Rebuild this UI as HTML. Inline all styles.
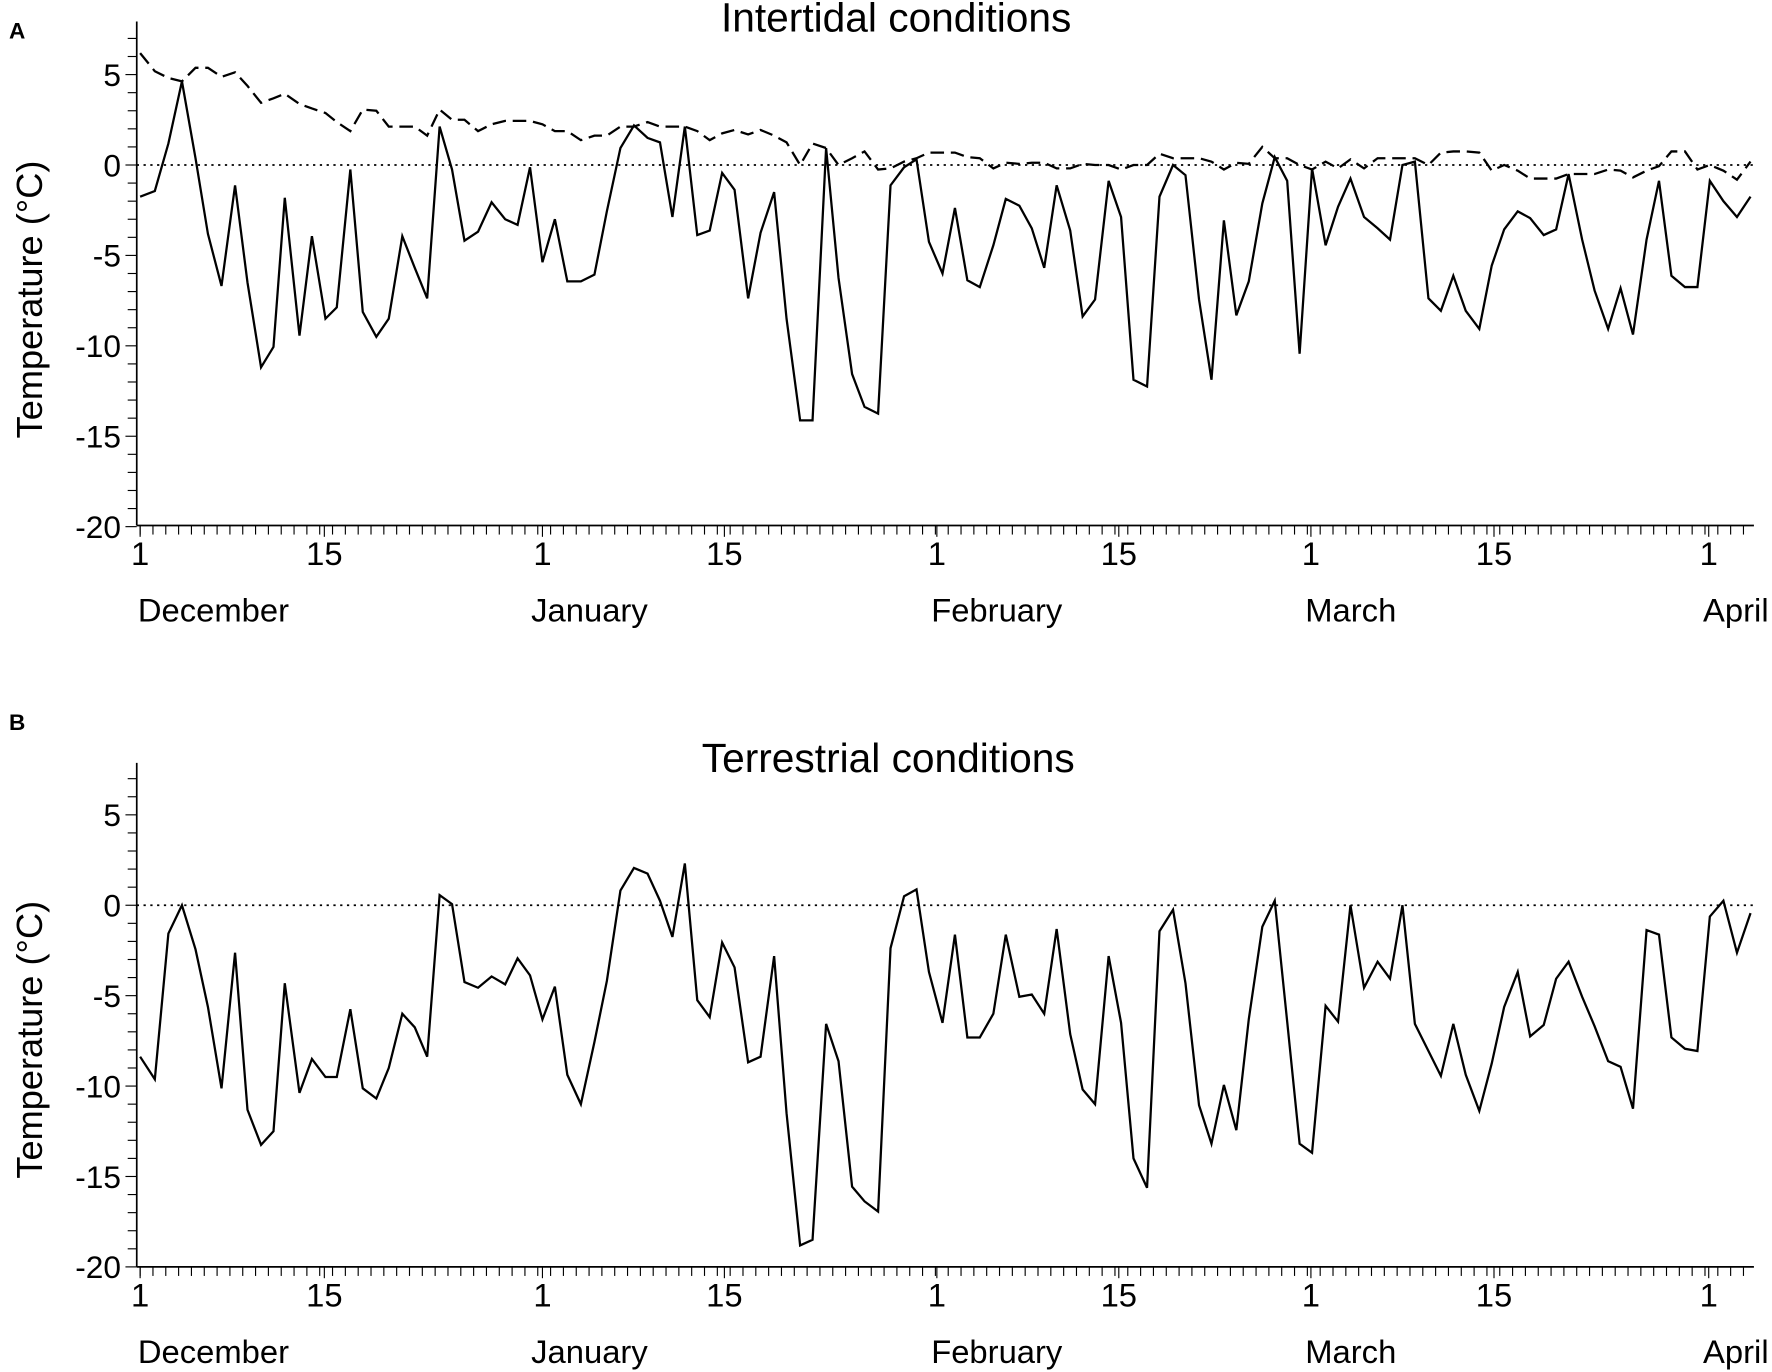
<!DOCTYPE html>
<html><head><meta charset="utf-8"><style>
html,body{margin:0;padding:0;background:#fff}
svg{display:block}
text{font-family:"Liberation Sans",Arial,sans-serif;fill:#000}
</style></head><body>
<svg id="s" width="1772" height="1372" viewBox="0 0 1568 1214" preserveAspectRatio="none" xmlns="http://www.w3.org/2000/svg">
<rect width="1568" height="1214" fill="#fff"/>
<text x="8" y="34" font-size="20" font-weight="bold">A</text>
<text x="8" y="646" font-size="20" font-weight="bold">B</text>
<text x="793" y="28" font-size="36" text-anchor="middle">Intertidal conditions</text>
<text x="786" y="683" font-size="36" text-anchor="middle">Terrestrial conditions</text>
<g id="g"></g>
</svg>
<script>
var g=document.getElementById('g'),NS='http://www.w3.org/2000/svg';
function el(t,a,txt){var e=document.createElementNS(NS,t);for(var k in a)e.setAttribute(k,a[k]);if(txt!==undefined)e.textContent=txt;g.appendChild(e);return e;}
function pts(s){return s.trim().split(/\)\s*,?\s*\(/).map(function(p){return p.replace(/[()]/g,'');}).join(' ');}
function panel(y0,bot){
  var ax=121;
  el('line',{x1:ax,y1:bot-446,x2:ax,y2:bot,stroke:'#000','stroke-width':1.5});
  el('line',{x1:ax,y1:bot,x2:1552,y2:bot,stroke:'#000','stroke-width':1.5});
  for(var v=-20;v<=7;v++){var y=y0-v*16;var maj=(v%5==0);
    el('line',{x1:ax-(maj?10:8),y1:y,x2:ax,y2:y,stroke:'#000','stroke-width':1});
    if(maj&&v<=5)el('text',{x:ax-14,y:y+10,'font-size':28,'text-anchor':'end'},String(v));}
  var xs=[124,287,480,641,829,990,1160,1322,1512];var lb=['1','15','1','15','1','15','1','15','1'];
  for(var i=0;i<=125;i++){var x=124+i*11.35;el('line',{x1:x,y1:bot,x2:x,y2:bot+8,stroke:'#000','stroke-width':1});}
  for(var i=0;i<xs.length;i++){el('line',{x1:xs[i],y1:bot,x2:xs[i],y2:bot+10,stroke:'#000','stroke-width':1});
    el('text',{x:xs[i],y:bot+35,'font-size':29,'text-anchor':'middle'},lb[i]);}
  var m=[['December',122],['January',470],['February',824],['March',1155],['April',1507]];
  m.forEach(function(a){el('text',{x:a[1],y:bot+85,'font-size':29},a[0]);});
  el('text',{x:0,y:0,'font-size':32,'text-anchor':'middle',transform:'translate(37,'+(y0+119)+') rotate(-90)'},'Temperature (°C)');
  el('line',{x1:ax,y1:y0,x2:1552,y2:y0,stroke:'#000','stroke-width':1.5,'stroke-dasharray':'2,4'});
}
panel(146,465);panel(801,1121);
var A="(124,174),(137,169),(149,127),(161,72),(173,140),(184,207),(196,253),(208,164),(219,250),(231,325),(242,307),(252,175),(265,297),(276,209),(288,282),(298,272),(310,150),(321,276),(333,298),(344,282),(356,209),(367,237),(378,264),(389,112),(400,150),(411,213),(423,205),(435,179),(447,194),(458,199),(469,148),(480,232),(491,194),(502,249),(514,249),(526,243),(537,187),(549,131),(561,111),(573,122),(584,126),(595,192),(606,112),(617,208),(628,204),(639,153),(650,168),(662,264),(673,206),(685,170),(696,282),(708,372),(719,372),(731,131),(742,246),(754,331),(765,360),(777,366),(788,164),(800,148),(811,141),(822,214),(834,242),(845,184),(856,248),(867,254),(879,217),(890,176),(902,182),(913,202),(924,237),(935,164),(947,204),(958,280),(969,265),(981,160),(992,192),(1003,336),(1015,342),(1026,174),(1038,146),(1049,155),(1061,265),(1072,336),(1083,195),(1094,279),(1105,249),(1117,180),(1128,139),(1139,160),(1150,313),(1161,149),(1173,217),(1184,183),(1195,158),(1207,192),(1219,202),(1230,212),(1241,146),(1252,143),(1264,264),(1275,275),(1286,244),(1297,275),(1309,291),(1320,235),(1331,203),(1343,187),(1354,193),(1366,208),(1377,203),(1388,154),(1400,212),(1411,257),(1423,291),(1434,255),(1445,296),(1457,212),(1468,160),(1479,244),(1491,254),(1502,254),(1513,160),(1525,178),(1537,192),(1549,174)";
var D="(124,47),(137,63),(149,69),(161,72),(173,60),(184,60),(196,68),(208,64),(219,76),(231,91),(242,87),(252,83),(265,92),(276,96),(288,100),(298,108),(310,116),(321,97),(333,98),(344,112),(356,112),(367,112),(378,120),(389,97),(400,106),(411,106),(423,116),(435,110),(447,107),(458,107),(469,107),(480,110),(491,116),(502,116),(514,124),(526,120),(537,120),(549,112),(561,112),(573,108),(584,112),(595,112),(606,112),(617,116),(628,124),(639,118),(650,115),(662,119),(673,115),(685,120),(696,126),(708,146),(719,127),(731,131),(742,146),(754,140),(765,134),(777,150),(788,149),(800,143),(811,140),(822,135),(834,135),(845,135),(856,139),(867,140),(879,149),(890,144),(902,145),(913,144),(924,144),(935,149),(947,149),(958,145),(969,146),(981,146),(992,150),(1003,146),(1015,146),(1026,136),(1038,140),(1049,140),(1061,140),(1072,143),(1083,150),(1094,144),(1105,145),(1117,130),(1128,140),(1139,140),(1150,146),(1161,150),(1173,143),(1184,149),(1195,141),(1207,149),(1219,140),(1230,140),(1241,140),(1252,140),(1264,146),(1275,135),(1286,134),(1297,134),(1309,135),(1320,151),(1331,146),(1343,151),(1354,158),(1366,158),(1377,158),(1388,154),(1400,154),(1411,154),(1423,150),(1434,151),(1445,157),(1457,151),(1468,147),(1479,134),(1491,134),(1502,150),(1513,146),(1525,151),(1537,159),(1549,143)";
var B="(124,935),(137,955),(149,826),(161,801),(173,840),(184,891),(196,963),(208,843),(219,982),(231,1013),(242,1001),(252,870),(265,967),(276,937),(288,953),(298,953),(310,893),(321,963),(333,972),(344,945),(356,897),(367,909),(378,935),(389,792),(400,800),(411,869),(423,874),(435,864),(447,871),(458,848),(469,863),(480,902),(491,873),(502,951),(514,977),(526,922),(537,868),(549,788),(561,768),(573,773),(584,797),(595,829),(606,764),(617,885),(628,900),(639,834),(650,856),(662,940),(673,935),(685,846),(696,985),(708,1102),(719,1097),(731,906),(742,939),(754,1050),(765,1063),(777,1072),(788,839),(800,793),(811,787),(822,860),(834,905),(845,827),(856,918),(867,918),(879,897),(890,827),(902,882),(913,880),(924,897),(935,822),(947,915),(958,964),(969,977),(981,846),(992,905),(1003,1025),(1015,1051),(1026,824),(1038,805),(1049,870),(1061,978),(1072,1012),(1083,960),(1094,1000),(1105,902),(1117,820),(1128,797),(1139,904),(1150,1012),(1161,1020),(1173,890),(1184,904),(1195,801),(1207,874),(1219,851),(1230,866),(1241,801),(1252,906),(1264,930),(1275,952),(1286,906),(1297,951),(1309,983),(1320,941),(1331,891),(1343,860),(1354,917),(1366,907),(1377,866),(1388,851),(1400,882),(1411,908),(1423,939),(1434,944),(1445,981),(1457,823),(1468,827),(1479,918),(1491,928),(1502,930),(1513,811),(1525,797),(1537,843),(1549,808)";
el('polyline',{points:pts(D),fill:'none',stroke:'#000','stroke-width':2,'stroke-dasharray':'12,6'});
el('polyline',{points:pts(A),fill:'none',stroke:'#000','stroke-width':2});
el('polyline',{points:pts(B),fill:'none',stroke:'#000','stroke-width':2});
</script>
</body></html>
